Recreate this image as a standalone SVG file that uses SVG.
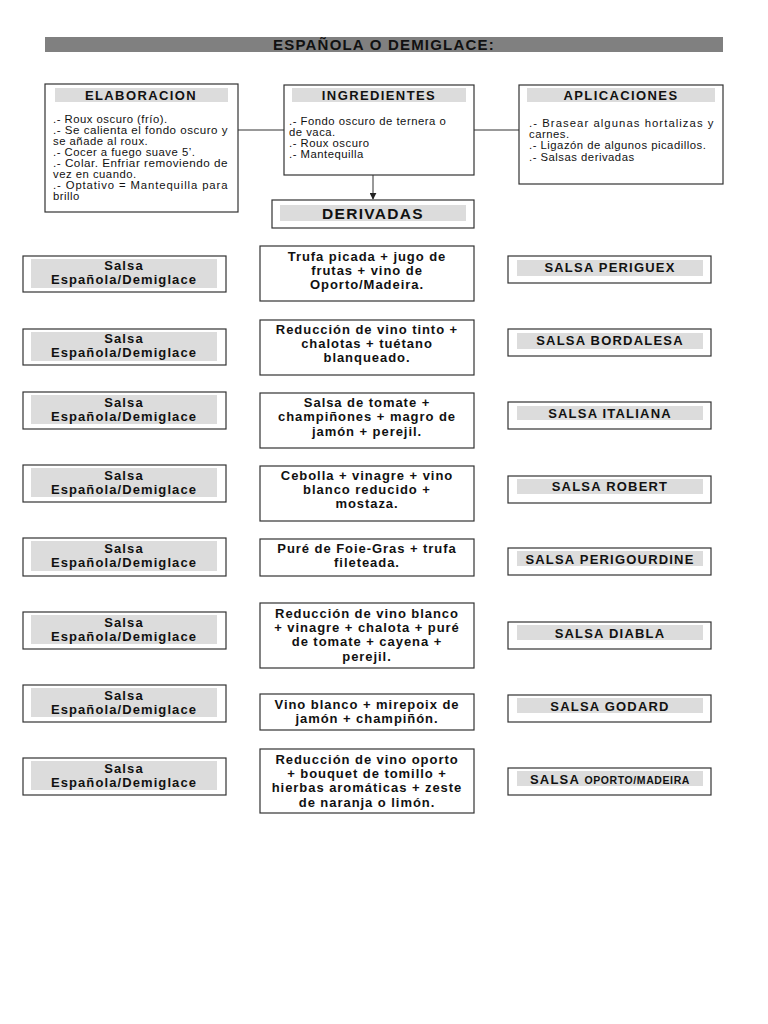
<svg xmlns="http://www.w3.org/2000/svg" width="768" height="1024" viewBox="0 0 768 1024">
<style>
text{font-family:"Liberation Sans",Arial,sans-serif;fill:#111}
.box{fill:#fff;stroke:#333;stroke-width:1.2}
.band{fill:#dcdcdc}
.h{font-weight:bold;font-size:13px;letter-spacing:1.4px;text-anchor:middle}
.b{font-size:11.3px;letter-spacing:0.5px}
.m{font-weight:bold;font-size:13px;letter-spacing:0.95px;text-anchor:middle}
.l{font-weight:bold;font-size:13px;letter-spacing:1.1px;text-anchor:middle}
.r{font-weight:bold;font-size:13px;letter-spacing:1.2px;text-anchor:middle}
.conn{stroke:#333;stroke-width:1;fill:none}
</style>
<defs>
<marker id="arr" viewBox="0 0 10 10" refX="9" refY="5" markerWidth="7" markerHeight="7" orient="auto"><path d="M0,0 L10,5 L0,10 z" fill="#222"/></marker>
</defs>
<rect width="768" height="1024" fill="#fff"/>
<g id="title">
<rect x="45" y="37" width="678" height="15" fill="#808080"/>
<text x="384" y="50" text-anchor="middle" font-weight="bold" font-size="15" letter-spacing="1.2">ESPAÑOLA O DEMIGLACE:</text>
</g>
<g id="connectors">
<line class="conn" x1="238" y1="130" x2="284" y2="130"/>
<line class="conn" x1="474" y1="130" x2="519" y2="130"/>
<line class="conn" x1="373" y1="175" x2="373" y2="199" marker-end="url(#arr)"/>
</g>
<g id="elaboracion">
<rect class="box" x="45" y="84" width="193" height="128"/>
<rect class="band" x="55" y="88" width="173" height="14"/>
<text class="h" x="141" y="99.5">ELABORACION</text>
<text class="b" x="53" y="123">.- Roux oscuro (frío).</text>
<text class="b" x="53" y="134" textLength="175" lengthAdjust="spacingAndGlyphs">.- Se calienta el fondo oscuro y</text>
<text class="b" x="53" y="145">se añade al roux.</text>
<text class="b" x="53" y="156">.- Cocer a fuego suave 5’.</text>
<text class="b" x="53" y="167" textLength="175" lengthAdjust="spacingAndGlyphs">.- Colar. Enfriar removiendo de</text>
<text class="b" x="53" y="178">vez en cuando.</text>
<text class="b" x="53" y="189" textLength="175" lengthAdjust="spacing">.- Optativo = Mantequilla para</text>
<text class="b" x="53" y="200">brillo</text>
</g>
<g id="ingredientes">
<rect class="box" x="284" y="85" width="190" height="90"/>
<rect class="band" x="292" y="88" width="174" height="14"/>
<text class="h" x="379" y="99.5">INGREDIENTES</text>
<text class="b" x="289" y="124.5">.- Fondo oscuro de ternera o</text>
<text class="b" x="289" y="135.5">de vaca.</text>
<text class="b" x="289" y="146.5">.- Roux oscuro</text>
<text class="b" x="289" y="158">.- Mantequilla</text>
</g>
<g id="aplicaciones">
<rect class="box" x="519" y="85" width="204" height="99"/>
<rect class="band" x="527" y="88" width="188" height="14"/>
<text class="h" x="621" y="99.5">APLICACIONES</text>
<text class="b" x="529" y="126.5" textLength="185" lengthAdjust="spacing">.- Brasear algunas hortalizas y</text>
<text class="b" x="529" y="137.5">carnes.</text>
<text class="b" x="529" y="149">.- Ligazón de algunos picadillos.</text>
<text class="b" x="529" y="160.5">.- Salsas derivadas</text>
</g>
<g id="derivadas">
<rect class="box" x="272" y="200" width="202" height="28"/>
<rect class="band" x="280" y="205" width="186" height="16"/>
<text x="373" y="218.5" text-anchor="middle" font-weight="bold" font-size="15.5" letter-spacing="1.3">DERIVADAS</text>
</g>

<g id="base1"><rect class="box" x="23" y="256" width="203" height="36"/><rect class="band" x="31" y="259" width="186" height="29"/><text class="l" x="124" y="270">Salsa</text><text class="l" x="124" y="284">Española/Demiglace</text></g>
<g id="ing1"><rect class="box" x="260" y="246" width="214" height="55"/><text class="m" x="367" y="261">Trufa picada + jugo de</text><text class="m" x="367" y="275">frutas + vino de</text><text class="m" x="367" y="289">Oporto/Madeira.</text></g>
<g id="salsa1"><rect class="box" x="508" y="256" width="203" height="27"/><rect class="band" x="517" y="260" width="186" height="16"/><text class="r" x="610" y="271.5">SALSA PERIGUEX</text></g>

<g id="base2"><rect class="box" x="23" y="329" width="203" height="36"/><rect class="band" x="31" y="332" width="186" height="29"/><text class="l" x="124" y="343">Salsa</text><text class="l" x="124" y="357">Española/Demiglace</text></g>
<g id="ing2"><rect class="box" x="260" y="320" width="214" height="55"/><text class="m" x="367" y="334">Reducción de vino tinto +</text><text class="m" x="367" y="348">chalotas + tuétano</text><text class="m" x="367" y="362">blanqueado.</text></g>
<g id="salsa2"><rect class="box" x="508" y="329" width="203" height="27"/><rect class="band" x="517" y="333" width="186" height="16"/><text class="r" x="610" y="344.5">SALSA BORDALESA</text></g>

<g id="base3"><rect class="box" x="23" y="392" width="203" height="37"/><rect class="band" x="31" y="395" width="186" height="29"/><text class="l" x="124" y="407">Salsa</text><text class="l" x="124" y="421">Española/Demiglace</text></g>
<g id="ing3"><rect class="box" x="260" y="393" width="214" height="55"/><text class="m" x="367" y="407">Salsa de tomate +</text><text class="m" x="367" y="421">champiñones + magro de</text><text class="m" x="367" y="436">jamón + perejil.</text></g>
<g id="salsa3"><rect class="box" x="508" y="402" width="203" height="27"/><rect class="band" x="517" y="406" width="186" height="14"/><text class="r" x="610" y="417.5">SALSA ITALIANA</text></g>

<g id="base4"><rect class="box" x="23" y="465" width="203" height="37"/><rect class="band" x="31" y="468" width="186" height="29"/><text class="l" x="124" y="480">Salsa</text><text class="l" x="124" y="494">Española/Demiglace</text></g>
<g id="ing4"><rect class="box" x="260" y="466" width="214" height="55"/><text class="m" x="367" y="480">Cebolla + vinagre + vino</text><text class="m" x="367" y="494">blanco reducido +</text><text class="m" x="367" y="508">mostaza.</text></g>
<g id="salsa4"><rect class="box" x="508" y="476" width="203" height="27"/><rect class="band" x="517" y="479" width="186" height="15"/><text class="r" x="610" y="490.5">SALSA ROBERT</text></g>

<g id="base5"><rect class="box" x="23" y="538" width="203" height="38"/><rect class="band" x="31" y="541" width="186" height="30"/><text class="l" x="124" y="553">Salsa</text><text class="l" x="124" y="567">Española/Demiglace</text></g>
<g id="ing5"><rect class="box" x="260" y="539" width="214" height="37"/><text class="m" x="367" y="553">Puré de Foie-Gras + trufa</text><text class="m" x="367" y="567">fileteada.</text></g>
<g id="salsa5"><rect class="box" x="508" y="548" width="203" height="27"/><rect class="band" x="517" y="551" width="186" height="15"/><text class="r" x="610" y="563.5">SALSA PERIGOURDINE</text></g>

<g id="base6"><rect class="box" x="23" y="612" width="203" height="37"/><rect class="band" x="31" y="615" width="186" height="29"/><text class="l" x="124" y="627">Salsa</text><text class="l" x="124" y="641">Española/Demiglace</text></g>
<g id="ing6"><rect class="box" x="260" y="603" width="214" height="65"/><text class="m" x="367" y="618">Reducción de vino blanco</text><text class="m" x="367" y="632">+ vinagre + chalota + puré</text><text class="m" x="367" y="646">de tomate + cayena +</text><text class="m" x="367" y="661">perejil.</text></g>
<g id="salsa6"><rect class="box" x="508" y="622" width="203" height="27"/><rect class="band" x="517" y="625" width="186" height="15"/><text class="r" x="610" y="637.5">SALSA DIABLA</text></g>

<g id="base7"><rect class="box" x="23" y="685" width="203" height="37"/><rect class="band" x="31" y="688" width="186" height="29"/><text class="l" x="124" y="700">Salsa</text><text class="l" x="124" y="714">Española/Demiglace</text></g>
<g id="ing7"><rect class="box" x="260" y="694" width="214" height="36"/><text class="m" x="367" y="709">Vino blanco + mirepoix de</text><text class="m" x="367" y="723">jamón + champiñón.</text></g>
<g id="salsa7"><rect class="box" x="508" y="695" width="203" height="27"/><rect class="band" x="517" y="698" width="186" height="15"/><text class="r" x="610" y="710.5">SALSA GODARD</text></g>

<g id="base8"><rect class="box" x="23" y="758" width="203" height="37"/><rect class="band" x="31" y="761" width="186" height="29"/><text class="l" x="124" y="773">Salsa</text><text class="l" x="124" y="787">Española/Demiglace</text></g>
<g id="ing8"><rect class="box" x="260" y="749" width="214" height="64"/><text class="m" x="367" y="764">Reducción de vino oporto</text><text class="m" x="367" y="778">+ bouquet de tomillo +</text><text class="m" x="367" y="792">hierbas aromáticas + zeste</text><text class="m" x="367" y="807">de naranja o limón.</text></g>
<g id="salsa8"><rect class="box" x="508" y="768" width="203" height="27"/><rect class="band" x="517" y="771" width="186" height="15"/><text class="r" x="610" y="783.5">SALSA <tspan font-size="10.5" letter-spacing="0.6">OPORTO/MADEIRA</tspan></text></g>
</svg>
